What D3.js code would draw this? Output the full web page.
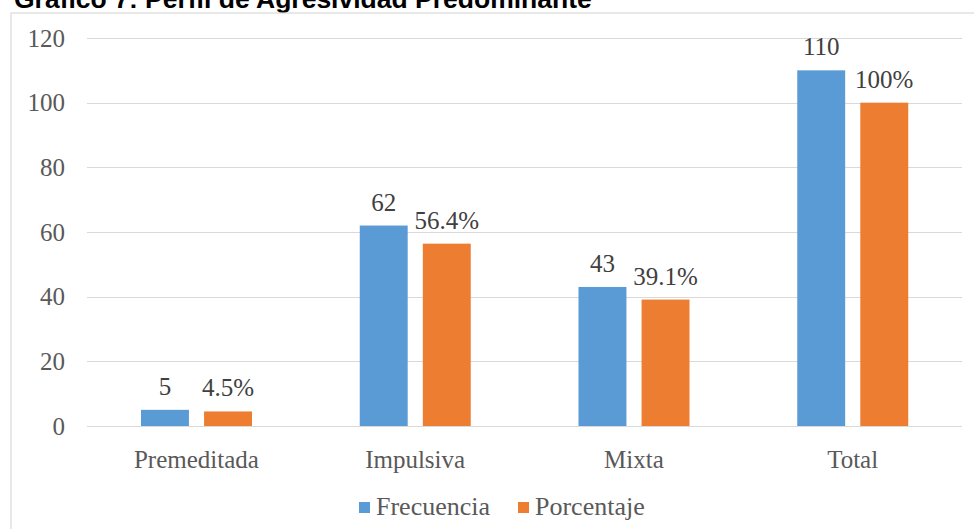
<!DOCTYPE html>
<html><head><meta charset="utf-8">
<script src="https://cdn.jsdelivr.net/npm/d3@7"></script>
<style>
body{margin:0;background:#fff;}
svg{display:block;}
</style></head>
<body>
<script>
const categories = ["Premeditada", "Impulsiva", "Mixta", "Total"];
const frecuencia = [5, 62, 43, 110];
const porcentaje = [4.5, 56.4, 39.1, 100];
const porcentajeLabels = ["4.5%", "56.4%", "39.1%", "100%"];
const seriesNames = ["Frecuencia", "Porcentaje"];
const yTicks = [0, 20, 40, 60, 80, 100, 120];
const colors = ["#5B9BD5", "#ED7D31"];

const W = 974, H = 529;
const serif = "'Liberation Serif', 'Times New Roman', serif";
const svg = d3.select("body").append("svg").attr("width", W).attr("height", H);

// title (partially cut at top, as in the reference)
svg.append("text").attr("x", 14).attr("y", 8)
  .attr("font-family", "Arial, 'Liberation Sans', sans-serif")
  .attr("font-weight", "bold").attr("font-size", 26.5).attr("fill", "#000")
  .text("Gráfico 7: Perfil de Agresividad Predominante");

// chart frame
svg.append("rect").attr("x", 11).attr("y", 13).attr("width", W - 11 + 2).attr("height", H - 13 + 2)
  .attr("fill", "#fff").attr("stroke", "#D9D9D9").attr("stroke-width", 1.2);

const x0 = 87, x1 = 962, yTop = 38, yBot = 426;
const x = d3.scaleBand().domain(categories).range([x0, x1]).paddingInner(0).paddingOuter(0);
const y = d3.scaleLinear().domain([0, 120]).range([yBot, yTop]);

// gridlines
svg.append("g").selectAll("line").data(yTicks).join("line")
  .attr("x1", x0).attr("x2", x1)
  .attr("y1", d => Math.round(y(d)) + 0.5).attr("y2", d => Math.round(y(d)) + 0.5)
  .attr("stroke", "#D9D9D9").attr("stroke-width", 1);

// y axis labels
const yAxis = d3.axisLeft(y).tickValues(yTicks).tickSize(0).tickPadding(0);
const ga = svg.append("g").attr("transform", `translate(65,0)`).call(yAxis);
ga.select(".domain").remove();
ga.selectAll("text").attr("font-family", serif)
  .attr("font-size", 25).attr("fill", "#595959");

// x axis labels
const xAxis = d3.axisBottom(x).tickSize(0).tickPadding(0);
const gx = svg.append("g").attr("transform", `translate(0,${yBot + 24})`).call(xAxis);
gx.select(".domain").remove();
gx.selectAll("text").attr("font-family", serif)
  .attr("font-size", 25).attr("fill", "#595959");

// bars
const bw = x.bandwidth();
const inner = d3.scaleBand().domain([0, 1])
  .range([bw * 54 / 218.75, bw * 165 / 218.75]).paddingInner(0.24).paddingOuter(0);
const series = [frecuencia, porcentaje];
const labels = [frecuencia.map(String), porcentajeLabels];
series.forEach((vals, s) => {
  const g = svg.append("g");
  g.selectAll("rect").data(vals).join("rect")
    .attr("x", (d, i) => x(categories[i]) + inner(s))
    .attr("width", inner.bandwidth())
    .attr("y", d => y(d))
    .attr("height", d => y(0) - y(d))
    .attr("fill", colors[s]);
  g.selectAll("text").data(vals).join("text")
    .attr("x", (d, i) => x(categories[i]) + inner(s) + inner.bandwidth() / 2)
    .attr("y", d => y(d) - 15)
    .attr("text-anchor", "middle")
    .attr("font-family", serif)
    .attr("font-size", 25).attr("fill", "#404040")
    .text((d, i) => labels[s][i]);
});

// legend
const legendItems = [{name: seriesNames[0], x: 359}, {name: seriesNames[1], x: 518}];
legendItems.forEach((it, i) => {
  svg.append("rect").attr("x", it.x).attr("y", 502).attr("width", 11).attr("height", 11).attr("fill", colors[i]);
  svg.append("text").attr("x", it.x + 17).attr("y", 515)
    .attr("font-family", serif)
    .attr("font-size", 26).attr("fill", "#595959").text(it.name);
});
</script>
</body></html>
